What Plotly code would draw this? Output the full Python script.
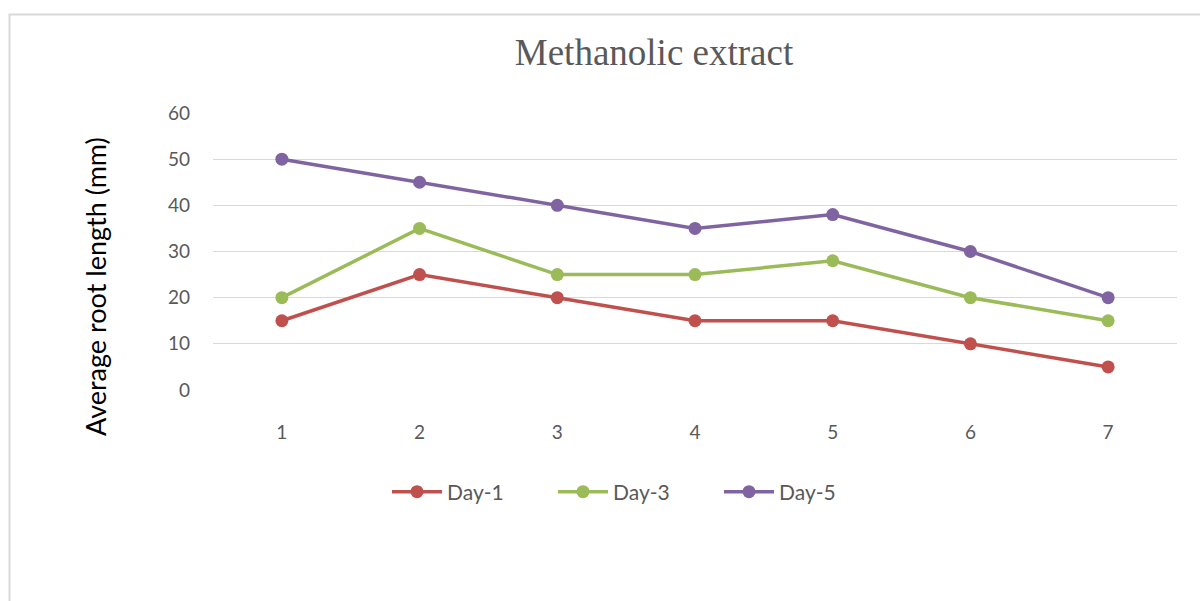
import plotly.graph_objects as go

# Concentration groups (x categories) and average root length per day (mm)
groups = ["1", "2", "3", "4", "5", "6", "7"]
day1 = [15, 25, 20, 15, 15, 10, 5]
day3 = [20, 35, 25, 25, 28, 20, 15]
day5 = [50, 45, 40, 35, 38, 30, 20]
series_names = ["Day-1", "Day-3", "Day-5"]
y_ticks = [0, 10, 20, 30, 40, 50, 60]

colors = ["#C0504D", "#9BBB59", "#8064A2"]

W, H = 1200, 601
L, R, T, B = 213, 23, 113, 211
pw, ph = W - L - R, H - T - B


def px_x(p):
    return (p - L) / pw


def px_y(p):
    return (H - B - p) / ph


fig = go.Figure()
for name, vals, col in zip(series_names, [day1, day3, day5], colors):
    fig.add_trace(go.Scatter(
        x=groups, y=vals, name=name, mode="lines+markers",
        line=dict(color=col, width=3.5),
        marker=dict(color=col, size=13),
    ))

fig.update_layout(
    width=W, height=H,
    margin=dict(l=L, r=R, t=T, b=B),
    paper_bgcolor="white", plot_bgcolor="white",
    font=dict(family="Lato, Open Sans, sans-serif", color="#595959"),
    title=dict(
        text="Methanolic extract",
        font=dict(family="Liberation Serif, DejaVu Serif, serif", size=37, color="#595959"),
        x=px_x(654), xref="paper", xanchor="center",
        y=1 - 52 / H, yref="container", yanchor="middle",
    ),
    xaxis=dict(
        type="category", range=[-0.5, 6.5],
        showgrid=False, showline=False, zeroline=False,
        ticks="", tickfont=dict(size=19, color="#595959"),
        ticklabelstandoff=29,
    ),
    yaxis=dict(
        range=[0, 60], tickvals=y_ticks,
        showgrid=True, gridcolor="#D9D9D9", gridwidth=1,
        zeroline=False, showline=False, ticks="",
        tickfont=dict(size=19, color="#595959"),
        ticklabelstandoff=22,
    ),
    legend=dict(
        orientation="h", x=px_x(387), xanchor="left",
        y=px_y(492), yanchor="middle",
        font=dict(size=21, color="#595959"),
        entrywidth=101, entrywidthmode="pixels",
        itemwidth=50, tracegroupgap=0,
        bgcolor="rgba(0,0,0,0)",
    ),
    annotations=[dict(
        text="Average root length (mm)", textangle=-90,
        xref="paper", yref="paper", x=px_x(95), y=px_y(287),
        xanchor="center", yanchor="middle", showarrow=False,
        font=dict(size=27, color="#000000"),
    )],
    shapes=[dict(
        type="rect", xref="paper", yref="paper",
        x0=px_x(9.5), x1=px_x(1230), y0=px_y(14.5), y1=px_y(640),
        line=dict(color="#D9D9D9", width=2), layer="below",
    )],
)

fig.write_html("out.html")
